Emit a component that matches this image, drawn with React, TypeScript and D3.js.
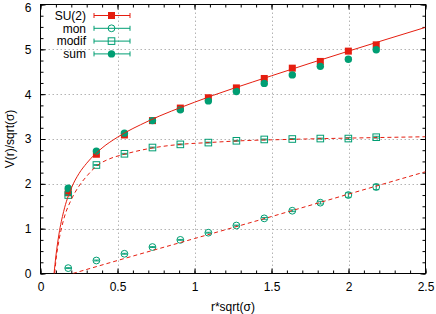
import { useEffect, useRef } from "react";
import { select, scaleLinear, line, curveMonotoneX, axisBottom, axisLeft, axisTop, axisRight, range } from "d3";

// lattice distances r*sqrt(sigma)
const rVals = [0.18, 0.363, 0.545, 0.727, 0.908, 1.09, 1.272, 1.453, 1.635, 1.817, 1.999, 2.18];
const su2 = [1.8, 2.66, 3.09, 3.41, 3.69, 3.92, 4.14, 4.35, 4.58, 4.73, 4.96, 5.1];
const su2Err = [0.03, 0.02, 0.02, 0.02, 0.02, 0.02, 0.02, 0.02, 0.03, 0.03, 0.04, 0.04];
const mon = [0.12, 0.29, 0.44, 0.59, 0.75, 0.91, 1.07, 1.23, 1.4, 1.58, 1.75, 1.93];
const monErr = [0.01, 0.01, 0.01, 0.01, 0.01, 0.01, 0.01, 0.02, 0.02, 0.03, 0.05, 0.06];
const modif = [1.75, 2.42, 2.67, 2.81, 2.88, 2.92, 2.96, 2.99, 3.0, 3.01, 3.01, 3.04];
const modifErr = [0.01, 0.01, 0.01, 0.01, 0.01, 0.01, 0.01, 0.01, 0.01, 0.01, 0.02, 0.02];
const sum = [1.9, 2.73, 3.13, 3.41, 3.65, 3.85, 4.06, 4.24, 4.43, 4.62, 4.78, 4.99];
const sumErr = [0.03, 0.02, 0.02, 0.02, 0.02, 0.02, 0.02, 0.03, 0.03, 0.03, 0.04, 0.04];

// fit curves
const su2Fit = [[0.088, 0], [0.1, 0.39], [0.12, 0.88], [0.15, 1.38], [0.2, 1.9], [0.25, 2.23], [0.3, 2.46], [0.4, 2.8], [0.5, 3.04], [0.7, 3.4], [1.0, 3.82], [1.5, 4.41], [2.0, 4.96], [2.5, 5.49]];
const modifFit = [[0.092, 0], [0.1, 0.28], [0.12, 0.74], [0.15, 1.2], [0.2, 1.65], [0.25, 1.95], [0.3, 2.17], [0.365, 2.4], [0.45, 2.56], [0.545, 2.66], [0.727, 2.8], [0.908, 2.88], [1.09, 2.92], [1.3, 2.96], [1.6, 2.99], [2.0, 3.02], [2.5, 3.05]];
const monFit = [[0.21, 0], [0.5, 0.29], [1.0, 0.78], [1.5, 1.27], [2.0, 1.77], [2.5, 2.27]];

const xTicks = [0, 0.5, 1, 1.5, 2, 2.5];
const yTicks = [0, 1, 2, 3, 4, 5, 6];
const legendNames = ["SU(2)", "mon", "modif", "sum"];

const RED = "#e51e10";
const GREEN = "#009e73";

const draw = (ref: SVGSVGElement) => {
  const svg = select(ref);
  svg.selectAll("*").remove();
  const m = { l: 40.5, r: 425.5, t: 4.5, b: 273.5 };
  const x = scaleLinear().domain([0, 2.5]).range([m.l, m.r]);
  const y = scaleLinear().domain([0, 6]).range([m.b, m.t]);
  const font = "'Liberation Sans', Arial, sans-serif";

  svg.append("rect").attr("width", 436).attr("height", 314).attr("fill", "white");

  // grid
  const grid = svg.append("g").attr("stroke", "#b4b4b4").attr("stroke-dasharray", "1.5,2.5").attr("stroke-width", 1);
  xTicks.slice(1, -1).forEach((t) =>
    grid.append("line").attr("x1", Math.round(x(t)) + 0.5).attr("x2", Math.round(x(t)) + 0.5).attr("y1", m.t).attr("y2", m.b)
  );
  yTicks.slice(1, -1).forEach((t) =>
    grid.append("line").attr("y1", Math.round(y(t)) + 0.5).attr("y2", Math.round(y(t)) + 0.5).attr("x1", m.l).attr("x2", m.r)
  );

  // axes with mirrored ticks
  const mk = (g: any) => {
    g.selectAll(".domain").remove();
    g.selectAll("line").attr("stroke", "black");
    g.selectAll("text").attr("font-family", font).attr("font-size", 12).attr("fill", "black");
    g.attr("font-family", font).attr("font-size", 12);
  };
  const minorX = range(0, 26).map((i) => i / 10);
  const minorY = range(0, 25).map((i) => i / 4);
  svg.append("g").attr("transform", `translate(0,${m.b})`)
    .call(axisBottom(x).tickValues(xTicks).tickSize(-5).tickSizeOuter(0).tickPadding(9).tickFormat((d: any) => `${d}`)).call(mk);
  svg.append("g").attr("transform", `translate(0,${m.b})`)
    .call(axisBottom(x).tickValues(minorX).tickSize(-3).tickSizeOuter(0).tickFormat(() => "")).call(mk);
  svg.append("g").attr("transform", `translate(0,${m.t})`)
    .call(axisTop(x).tickValues(xTicks).tickSize(-5).tickSizeOuter(0).tickFormat(() => "")).call(mk);
  svg.append("g").attr("transform", `translate(0,${m.t})`)
    .call(axisTop(x).tickValues(minorX).tickSize(-3).tickSizeOuter(0).tickFormat(() => "")).call(mk);
  const yAx = svg.append("g").attr("transform", `translate(${m.l},0)`)
    .call(axisLeft(y).tickValues(yTicks).tickSize(-5).tickSizeOuter(0).tickPadding(9).tickFormat((d: any) => `${d}`)).call(mk);
  // keep the top label inside the picture
  yAx.selectAll("text").filter((d: any) => d === 6).attr("dy", "0.55em");
  svg.append("g").attr("transform", `translate(${m.l},0)`)
    .call(axisLeft(y).tickValues(minorY).tickSize(-3).tickSizeOuter(0).tickFormat(() => "")).call(mk);
  svg.append("g").attr("transform", `translate(${m.r},0)`)
    .call(axisRight(y).tickValues(yTicks).tickSize(-5).tickSizeOuter(0).tickFormat(() => "")).call(mk);
  svg.append("g").attr("transform", `translate(${m.r},0)`)
    .call(axisRight(y).tickValues(minorY).tickSize(-3).tickSizeOuter(0).tickFormat(() => "")).call(mk);

  svg.append("rect").attr("x", m.l).attr("y", m.t).attr("width", m.r - m.l).attr("height", m.b - m.t)
    .attr("fill", "none").attr("stroke", "black").attr("stroke-width", 1);

  // axis titles
  svg.append("text").attr("x", (m.l + m.r) / 2).attr("y", 311).attr("text-anchor", "middle")
    .attr("font-family", font).attr("font-size", 12).text("r*sqrt(σ)");
  svg.append("text").attr("transform", `translate(14,${(m.t + m.b) / 2}) rotate(-90)`).attr("text-anchor", "middle")
    .attr("font-family", font).attr("font-size", 12).text("V(r)/sqrt(σ)");

  // markers
  const marker = (g: any, kind: number, cx: number, cy: number) => {
    if (kind === 0)
      g.append("rect").attr("x", cx - 3.5).attr("y", cy - 3.5).attr("width", 7).attr("height", 7).attr("fill", RED);
    else if (kind === 1)
      g.append("circle").attr("cx", cx).attr("cy", cy).attr("r", 3.4).attr("fill", "none").attr("stroke", GREEN).attr("stroke-width", 1);
    else if (kind === 2)
      g.append("rect").attr("x", cx - 3.3).attr("y", cy - 3.3).attr("width", 6.6).attr("height", 6.6).attr("fill", "none").attr("stroke", GREEN).attr("stroke-width", 1);
    else g.append("circle").attr("cx", cx).attr("cy", cy).attr("r", 3.7).attr("fill", GREEN);
  };
  const errBar = (g: any, color: string, cx: number, y0: number, y1: number) => {
    g.append("line").attr("x1", cx).attr("x2", cx).attr("y1", y0).attr("y2", y1).attr("stroke", color);
    [y0, y1].forEach((yy) =>
      g.append("line").attr("x1", cx - 3).attr("x2", cx + 3).attr("y1", yy).attr("y2", yy).attr("stroke", color).attr("stroke-width", 0.9)
    );
  };

  const series = [
    { vals: su2, err: su2Err, color: RED },
    { vals: mon, err: monErr, color: GREEN },
    { vals: modif, err: modifErr, color: GREEN },
    { vals: sum, err: sumErr, color: GREEN },
  ];
  const pts = svg.append("g");
  series.forEach((s, k) => {
    const g = pts.append("g");
    s.vals.forEach((v, i) => {
      const cx = x(rVals[i]);
      errBar(g, s.color, cx, y(v - s.err[i]), y(v + s.err[i]));
      marker(g, k, cx, y(v));
    });
  });

  // fit curves
  svg.append("clipPath").attr("id", "plotclip").append("rect")
    .attr("x", m.l).attr("y", m.t).attr("width", m.r - m.l).attr("height", m.b - m.t);
  const ln = line<number[]>().x((d) => x(d[0])).y((d) => y(d[1])).curve(curveMonotoneX);
  const fits = svg.append("g").attr("clip-path", "url(#plotclip)").attr("fill", "none").attr("stroke", RED).attr("stroke-width", 1);
  fits.append("path").attr("d", ln(su2Fit));
  fits.append("path").attr("d", ln(modifFit)).attr("stroke-dasharray", "4,3");
  fits.append("path").attr("d", ln(monFit)).attr("stroke-dasharray", "4,3");

  // legend
  const leg = svg.append("g");
  legendNames.forEach((name, k) => {
    const cy = 15.5 + k * 12.8;
    const color = k === 0 ? RED : GREEN;
    leg.append("text").attr("x", 86).attr("y", cy + 4.3).attr("text-anchor", "end")
      .attr("font-family", font).attr("font-size", 12).text(name);
    leg.append("line").attr("x1", 94).attr("x2", 130).attr("y1", cy).attr("y2", cy).attr("stroke", color);
    [94, 130].forEach((xx) =>
      leg.append("line").attr("x1", xx).attr("x2", xx).attr("y1", cy - 2.5).attr("y2", cy + 2.5).attr("stroke", color)
    );
    marker(leg, k, 111.5, cy);
  });
};

export default function App() {
  const ref = useRef<SVGSVGElement>(null);
  useEffect(() => {
    if (ref.current) draw(ref.current);
  }, []);
  return (
    <svg
      ref={ref}
      width={436}
      height={314}
      style={{ position: "absolute", left: 0, top: 0, display: "block" }}
    />
  );
}
